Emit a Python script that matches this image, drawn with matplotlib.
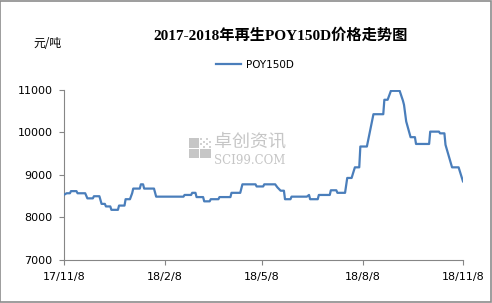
import matplotlib

matplotlib.use("Agg")
import matplotlib.pyplot as plt
from matplotlib.patches import Rectangle
import pandas as pd

plt.rcParams["font.family"] = ["DejaVu Sans", "Noto Sans CJK SC"]

# ============================================================
# Data: 再生POY150D price (元/吨)
# ============================================================
dates = [
    "2017-11-08", "2017-11-10", "2017-11-13", "2017-11-14", "2017-11-19",
    "2017-11-20", "2017-11-27", "2017-11-29", "2017-12-04", "2017-12-05",
    "2017-12-10", "2017-12-12", "2017-12-15", "2017-12-16", "2017-12-20",
    "2017-12-21", "2017-12-27", "2017-12-28", "2018-01-02", "2018-01-03",
    "2018-01-07", "2018-01-09", "2018-01-10", "2018-01-16", "2018-01-17",
    "2018-01-19", "2018-01-20", "2018-01-29", "2018-01-31", "2018-02-25",
    "2018-02-26", "2018-03-04", "2018-03-05", "2018-03-08", "2018-03-09",
    "2018-03-15", "2018-03-16", "2018-03-21", "2018-03-22", "2018-03-29",
    "2018-03-30", "2018-04-09", "2018-04-10", "2018-04-18", "2018-04-20",
    "2018-05-02", "2018-05-03", "2018-05-09", "2018-05-10", "2018-05-20",
    "2018-05-22", "2018-05-25", "2018-05-28", "2018-05-29", "2018-06-03",
    "2018-06-04", "2018-06-18", "2018-06-20", "2018-06-21", "2018-06-28",
    "2018-06-29", "2018-07-09", "2018-07-10", "2018-07-15", "2018-07-16",
    "2018-07-23", "2018-07-25", "2018-07-29", "2018-08-01", "2018-08-05",
    "2018-08-06", "2018-08-12", "2018-08-18", "2018-08-27", "2018-08-28",
    "2018-08-31", "2018-09-03", "2018-09-11", "2018-09-14", "2018-09-15",
    "2018-09-17", "2018-09-21", "2018-09-25", "2018-09-26", "2018-10-08",
    "2018-10-09", "2018-10-17", "2018-10-18", "2018-10-22", "2018-10-23",
    "2018-10-29", "2018-11-04", "2018-11-08",
]
prices = [
    8540, 8570, 8570, 8620, 8620,
    8570, 8570, 8450, 8450, 8500,
    8500, 8320, 8320, 8260, 8260,
    8180, 8180, 8280, 8280, 8430,
    8430, 8570, 8680, 8680, 8780,
    8780, 8680, 8680, 8490, 8490,
    8530, 8530, 8580, 8580, 8480,
    8480, 8380, 8380, 8430, 8430,
    8480, 8480, 8580, 8580, 8780,
    8780, 8730, 8730, 8780, 8780,
    8710, 8630, 8630, 8430, 8430,
    8490, 8490, 8530, 8430, 8430,
    8530, 8530, 8640, 8640, 8580,
    8580, 8930, 8930, 9180, 9180,
    9670, 9670, 10430, 10430, 10770,
    10770, 10980, 10980, 10750, 10650,
    10260, 9890, 9890, 9730, 9730,
    10020, 10020, 9980, 9980, 9710,
    9180, 9180, 8850,
]
tick_dates = ["2017-11-08", "2018-02-08", "2018-05-08", "2018-08-08", "2018-11-08"]
tick_labels = ["17/11/8", "18/2/8", "18/5/8", "18/8/8", "18/11/8"]
y_ticks = [7000, 8000, 9000, 10000, 11000]

series_name = "POY150D"
title = "2017-2018年再生POY150D价格走势图"
unit = "元/吨"

x = pd.to_datetime(dates)
axis_color = "#868686"
line_color = "#4a7ebb"
W, H = 492, 303

fig = plt.figure(figsize=(4.92, 3.03), dpi=100)
ax = fig.add_axes([0.131, 0.142, 0.810, 0.561])


def px_rect(x0, y0, w, h, c):
    # rectangle in pixel coords (origin top-left)
    fig.add_artist(Rectangle((x0 / W, 1 - (y0 + h) / H), w / W, h / H,
                             transform=fig.transFigure, color=c, lw=0, zorder=0))


# watermark (卓创资讯 logo)
wm = "#c6c6c6"
px_rect(189, 138, 10, 10, wm)
px_rect(189, 149, 10, 9, wm)
px_rect(200, 149, 11, 9, wm)
for i in range(4):
    for j in range(4):
        if (i + j) % 2 == 0:
            px_rect(200 + 3 * i, 138 + 2.6 * j, 2, 2, "#d2d2d2")
fig.text(214 / W, 1 - 142 / H, "卓创资讯", fontsize=13, color=wm,
         family=["Noto Sans CJK SC"], ha="left", va="center", zorder=0)
fig.text(214 / W, 1 - 160.5 / H, "SCI99.COM", fontsize=8.5, color=wm,
         family=["DejaVu Serif"], ha="left", va="center", zorder=0)

ax.plot(x, prices, color=line_color, linewidth=1.6, label=series_name, zorder=3)

ax.set_xlim(pd.Timestamp(tick_dates[0]), pd.Timestamp(tick_dates[-1]))
ax.set_ylim(y_ticks[0], y_ticks[-1])
ax.set_xticks(pd.to_datetime(tick_dates))
ax.set_xticklabels(tick_labels)
ax.set_yticks(y_ticks)
ax.patch.set_alpha(0)

for s in ["top", "right"]:
    ax.spines[s].set_visible(False)
for s in ["left", "bottom"]:
    ax.spines[s].set_color(axis_color)
    ax.spines[s].set_linewidth(0.8)
ax.tick_params(axis="both", colors=axis_color, labelcolor="black", labelsize=8,
               length=3.5, width=0.8)
ax.tick_params(axis="y", pad=5)
ax.tick_params(axis="x", pad=5)

fig.text(0.571, 0.884, title, fontsize=11, fontweight="bold",
         family=["Liberation Serif", "Noto Sans CJK SC"], ha="center", va="center")
fig.text(0.067, 0.858, unit, fontsize=8.5, family=["Noto Sans CJK SC"],
         ha="left", va="center")

fig.legend(loc="center", bbox_to_anchor=(0.518, 0.785), frameon=False, fontsize=7.5,
           handlelength=2.4, handletextpad=0.4)

fig.add_artist(Rectangle((0.001, 0.002), 0.997, 0.995, transform=fig.transFigure,
                         fill=False, edgecolor="#8c8c8c", linewidth=1.2))

fig.savefig("out.png", dpi=100)
